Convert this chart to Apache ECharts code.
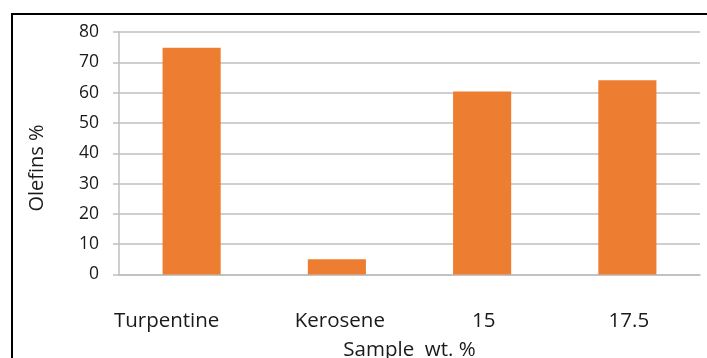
<!DOCTYPE html>
<html>
<head>
<meta charset="utf-8">
<script src="https://cdn.jsdelivr.net/npm/echarts@6/dist/echarts.min.js"></script>
<style>
  html, body { margin: 0; padding: 0; background: #fff; }
  #chart { width: 707px; height: 358px; }
</style>
</head>
<body>
<div id="chart"></div>
<script>
// Olefin content by sample
const categories = ['Turpentine', 'Kerosene', '15', '17.5'];
const olefins = [74.8, 5.0, 60.4, 64.1];
const yTicks = [0, 10, 20, 30, 40, 50, 60, 70, 80];

const FONT = '"Open Sans", Lato, sans-serif';
const TEXT = '#1a1a1a';
const chart = echarts.init(document.getElementById('chart'), null, { renderer: 'canvas' });

// the first label sits a little left of its bar, the others a touch right
const labelPad = [[0, 50, 0, 0], [0, 0, 0, 6], [0, 0, 0, 3], [0, 0, 0, 3]];
const categoryData = categories.map((name, i) => ({
  value: name,
  textStyle: { padding: labelPad[i] }
}));

chart.setOption({
  animation: false,
  backgroundColor: '#ffffff',
  grid: {
    left: 119, right: 7, top: 32, bottom: 83.5,
    containLabel: false,
    outerBoundsMode: 'none'
  },
  xAxis: {
    type: 'category',
    data: categoryData,
    name: 'Sample  wt. %',
    nameLocation: 'middle',
    nameGap: 65,
    nameTextStyle: { fontFamily: FONT, fontSize: 20.5, color: TEXT },
    axisLine: { lineStyle: { color: '#bfbfbf', width: 1.5 } },
    axisTick: { show: false },
    axisLabel: { fontFamily: FONT, fontSize: 20.5, color: TEXT, margin: 36 }
  },
  yAxis: {
    type: 'value',
    min: yTicks[0],
    max: yTicks[yTicks.length - 1],
    interval: 10,
    axisLine: { show: true, lineStyle: { color: '#bfbfbf', width: 1.5 } },
    axisTick: { show: true, length: 6, lineStyle: { color: '#bfbfbf', width: 1.5 } },
    splitLine: { lineStyle: { color: '#bfbfbf', width: 1.5 } },
    axisLabel: { fontFamily: FONT, fontSize: 17.5, color: TEXT, margin: 20 }
  },
  series: [{
    type: 'bar',
    data: olefins,
    barCategoryGap: '60%',
    itemStyle: { color: '#ED7D31' }
  }],
  graphic: [
    {
      type: 'rect',
      shape: { x: 12, y: 14, width: 760, height: 400 },
      style: { fill: 'none', stroke: '#000', lineWidth: 2 },
      z: 100
    },
    {
      type: 'text',
      x: 37, y: 168,
      rotation: Math.PI / 2,
      style: {
        text: 'Olefins %',
        fontFamily: FONT, fontSize: 20, fill: TEXT,
        align: 'center', verticalAlign: 'middle'
      }
    }
  ]
});
</script>
</body>
</html>
